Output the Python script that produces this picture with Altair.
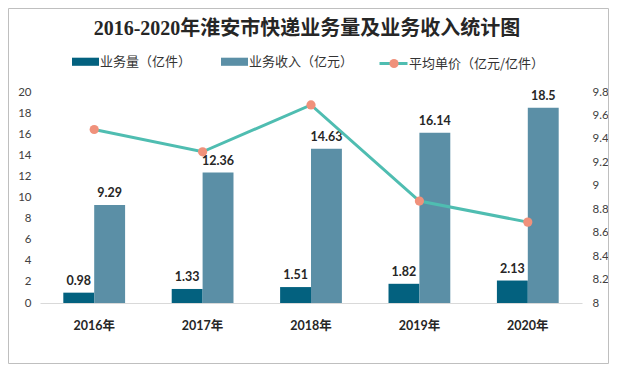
import altair as alt
import pandas as pd

years = ["2016年", "2017年", "2018年", "2019年", "2020年"]
volume = [0.98, 1.33, 1.51, 1.82, 2.13]
revenue = [9.29, 12.36, 14.63, 16.14, 18.5]
price = [9.48, 9.29, 9.69, 8.87, 8.69]

s_vol = "业务量（亿件）"
s_rev = "业务收入（亿元）"
s_price = "平均单价（亿元/亿件）"
s_price_marker = s_price + " "

bar_df = pd.DataFrame({
    "year": years * 2,
    "series": [s_vol] * len(years) + [s_rev] * len(years),
    "value": volume + revenue,
})
line_df = pd.DataFrame({"year": years, "price": price,
                        "series_line": [s_price] * len(years),
                        "series_point": [s_price_marker] * len(years)})

W, H = 542, 211
PAD = {"left": 32, "top": 84, "right": 27, "bottom": 61}
FONT = "Lato, Noto Sans CJK SC"
CJK = "Noto Sans CJK SC"
LEG_Y = -44

xscale = alt.Scale(paddingInner=0.43, paddingOuter=0.215)
xaxis = alt.Axis(title=None, labelAngle=0, ticks=False, domainColor="#d9d9d9", labelPadding=16,
                 labelFontWeight="bold", labelFontSize=12.5, labelColor="#262626", labelFont=FONT)
yleft_axis = alt.Axis(title=None, values=list(range(0, 21, 2)), grid=False, domain=False, ticks=False,
                      labelOverlap=False, labelPadding=9, labelFontSize=11.5, labelColor="#404040",
                      labelFont=FONT)
yright_axis = alt.Axis(title=None, orient="right", values=[8, 8.2, 8.4, 8.6, 8.8, 9, 9.2, 9.4, 9.6, 9.8],
                       format="~f", grid=False, domain=False, ticks=False, labelPadding=10,
                       labelOverlap=False, labelFontSize=11.5, labelColor="#404040", labelFont=FONT)
rect_path = "M-1,-0.3H1V0.3H-1Z"

X = alt.X("year:N", scale=xscale, axis=xaxis, sort=years)
XOFF = alt.XOffset("series:N", sort=[s_vol, s_rev], scale=alt.Scale(paddingInner=0, paddingOuter=0))
YL = alt.Y("value:Q", scale=alt.Scale(domain=[0, 20]), axis=yleft_axis)
YR = alt.Y("price:Q", scale=alt.Scale(domain=[8, 9.8]), axis=yright_axis)

base = alt.Chart(bar_df)
bars = base.mark_bar().encode(
    x=X, xOffset=XOFF, y=YL,
    color=alt.Color("series:N", sort=[s_vol, s_rev],
                    scale=alt.Scale(domain=[s_vol, s_rev], range=["#03617f", "#5b8fa6"]),
                    legend=alt.Legend(title=None, orient="none", legendX=32, legendY=LEG_Y, direction="horizontal",
                                      symbolType=rect_path, symbolSize=729, symbolStrokeWidth=0,
                                      labelFont=CJK, labelFontSize=13, labelColor="#333333",
                                      columnPadding=29, labelOffset=1)),
)
texts = base.mark_text(baseline="bottom", dy=-5, fontWeight="bold", fontSize=12.5, font=FONT, color="#262626").encode(
    x=X, xOffset=XOFF, y=YL,
    text=alt.Text("value:Q"),
)

lbase = alt.Chart(line_df)
line = lbase.mark_line(strokeWidth=3).encode(
    x=X, y=YR,
    stroke=alt.Stroke("series_line:N", scale=alt.Scale(domain=[s_price], range=["#4fbdb1"]),
                      legend=alt.Legend(title=None, orient="none", legendX=338, legendY=LEG_Y,
                                        symbolType="stroke", symbolSize=784, symbolStrokeWidth=3,
                                        labelFont=CJK, labelFontSize=13, labelColor="#333333", labelOffset=0)),
)
points = lbase.mark_point(filled=True, size=85, opacity=1).encode(
    x=X, y=YR,
    fill=alt.Fill("series_point:N", scale=alt.Scale(domain=[s_price_marker], range=["#f0917b"]),
                  legend=alt.Legend(title=None, orient="none", legendX=347.5, legendY=LEG_Y + 9,
                                    symbolType="circle", symbolSize=85, symbolStrokeWidth=0,
                                    labelFont=CJK, labelFontSize=13, labelExpr="''")),
)

border = alt.Chart(pd.DataFrame({"a": [0]})).mark_rect(fill=None, stroke="#bfbfbf", strokeWidth=1).encode(
    x=alt.value(-31.5), x2=alt.value(W + PAD["right"] - 0.5),
    y=alt.value(-PAD["top"] + 0.5), y2=alt.value(H + PAD["bottom"] - 0.5),
)

chart = alt.layer(
    alt.layer(bars, texts),
    alt.layer(line, points),
    border,
).resolve_scale(y="independent").properties(
    width=W, height=H, autosize=alt.AutoSizeParams(type="none"), padding=PAD,
    title=alt.Title("2016-2020年淮安市快递业务量及业务收入统计图", anchor="middle", offset=0, dy=31, dx=-4,
                    font="Liberation Serif, Noto Sans CJK SC", fontSize=20, fontWeight="bold", color="#262626"),
).configure_view(stroke=None)

chart.save("out.html", embed_options={"renderer": "svg", "actions": False})
